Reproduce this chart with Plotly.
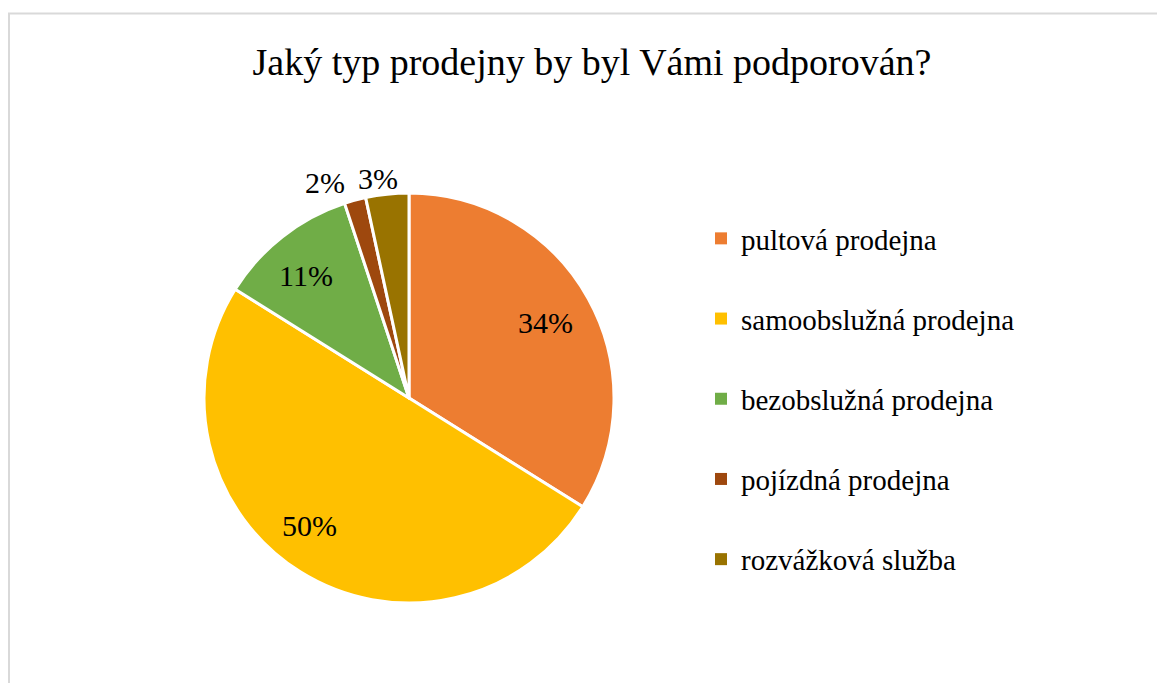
import math
import plotly.graph_objects as go

labels = ["pultová prodejna", "samoobslužná prodejna", "bezobslužná prodejna",
          "pojízdná prodejna", "rozvážková služba"]
values = [40, 59, 13, 2, 4]
colors = ["#ED7D31", "#FFC000", "#70AD47", "#9E480E", "#997300"]
title = "Jaký typ prodejny by byl Vámi podporován?"

# label placement style (radius fraction, angle nudge in degrees)
label_r = [0.76, 0.79, 0.78, 1.13, 1.08]
label_da = [0, 6, -2, -6, -2]

W, H = 1157, 675
FONT = "Liberation Serif, Times New Roman, serif"
CX, CY, R = 401, 390, 205

fig = go.Figure()
fig.add_trace(go.Pie(
    labels=labels, values=values, sort=False, direction="clockwise", rotation=0,
    marker=dict(colors=colors, line=dict(color="white", width=3)),
    textinfo="none", showlegend=False,
    domain=dict(x=[(CX - R) / W, (CX + R) / W], y=[1 - (CY + R) / H, 1 - (CY - R) / H]),
))
for lab, col in zip(labels, colors):
    fig.add_trace(go.Scatter(
        x=[None], y=[None], mode="markers", name=lab, legendgroup=lab,
        marker=dict(symbol="square", size=12, color=col), showlegend=True,
    ))

total = sum(values)
annotations = []
cum = 0
for v, rf, da in zip(values, label_r, label_da):
    mid = (cum + v / 2) / total * 360 + da
    cum += v
    px = CX + rf * R * math.sin(math.radians(mid))
    py = CY - rf * R * math.cos(math.radians(mid))
    annotations.append(dict(x=px / W, y=1 - py / H, xref="paper", yref="paper",
                            text=f"{round(100 * v / total)}%", showarrow=False,
                            xanchor="center", yanchor="middle",
                            font=dict(family=FONT, size=30, color="black")))

fig.update_layout(
    width=W, height=H,
    margin=dict(l=0, r=0, t=0, b=0),
    paper_bgcolor="white", plot_bgcolor="white",
    xaxis=dict(visible=False), yaxis=dict(visible=False),
    title=dict(text=title, x=584 / W, xanchor="center", y=1 - 54 / H, yanchor="middle",
               font=dict(family=FONT, size=38, color="black")),
    legend=dict(x=693 / W, xanchor="left", y=1 - 205 / H, yanchor="top",
                font=dict(family=FONT, size=29, color="black"),
                tracegroupgap=39.5, bgcolor="rgba(0,0,0,0)"),
    annotations=annotations,
    shapes=[dict(type="rect", xref="paper", yref="paper",
                 x0=1 / W, x1=1.05, y0=-0.05, y1=1 - 5.5 / H,
                 line=dict(color="#D9D9D9", width=2))],
)
fig.write_html("out.html")
